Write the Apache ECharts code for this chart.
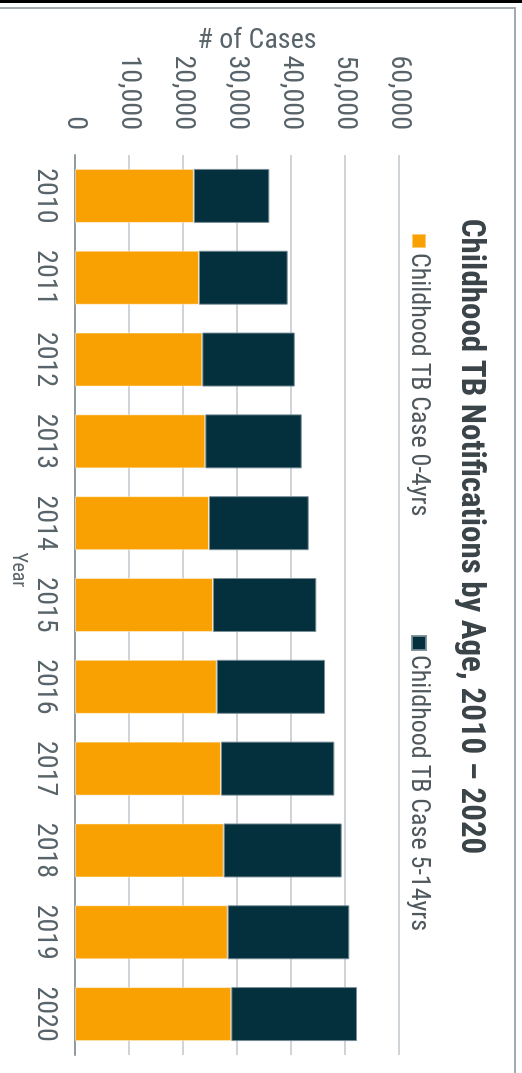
<!DOCTYPE html>
<html>
<head>
<meta charset="utf-8">
<script src="https://cdn.jsdelivr.net/npm/echarts@6/dist/echarts.min.js"></script>
<style>
  html, body { margin: 0; padding: 0; width: 522px; height: 1073px; overflow: hidden; background: #ffffff; }
  #frame-black { position: absolute; left: 0; top: 0; width: 522px; height: 3px; background: #000; }
  #frame-top { position: absolute; left: 0; top: 7px; width: 516px; height: 2px; background: #a3abb0; }
  #frame-right { position: absolute; left: 514px; top: 7px; width: 2px; height: 1066px; background: #a3abb0; }
  #chart { position: absolute; left: 0; top: 0; width: 1073px; height: 522px;
           transform-origin: 0 0; transform: translateX(522px) rotate(90deg); }
</style>
</head>
<body>
<div id="chart"></div>
<div id="frame-black"></div>
<div id="frame-top"></div>
<div id="frame-right"></div>
<script>
const years = ['2010', '2011', '2012', '2013', '2014', '2015', '2016', '2017', '2018', '2019', '2020'];
const caseAge0to4 = [22000, 22950, 23580, 24140, 24820, 25560, 26240, 27040, 27530, 28270, 28950];
const caseAge5to14 = [13990, 16430, 17120, 17840, 18450, 19130, 20060, 20990, 21850, 22530, 23270];
const seriesNames = ['Childhood TB Case 0-4yrs', 'Childhood TB Case 5-14yrs'];
const titleText = 'Childhood TB Notifications by Age, 2010 \u2013 2020';
const valueAxisName = '# of Cases';
const categoryAxisName = 'Year';

const FONT = '"Liberation Sans Narrow", "Roboto Condensed", "DejaVu Sans Condensed", "Liberation Sans", sans-serif';
const TEXT = '#59646a';

const chart = echarts.init(document.getElementById('chart'), null, { renderer: 'canvas', width: 1073, height: 522 });
chart.setOption({
  animation: false,
  backgroundColor: '#ffffff',
  textStyle: { fontFamily: FONT },
  title: {
    text: titleText,
    left: 'center',
    top: 30,
    textStyle: { fontFamily: FONT, fontSize: 33, fontWeight: 'bold', color: '#3b4448' }
  },
  legend: [
    {
      data: [seriesNames[0]], left: 233, top: 90, padding: 0, itemWidth: 14, itemHeight: 14, itemGap: 0,
      icon: 'rect', textStyle: { fontFamily: FONT, fontSize: 26, color: '#4f585d' }
    },
    {
      data: [seriesNames[1]], left: 635, top: 90, padding: 0, itemWidth: 14, itemHeight: 14, itemGap: 0,
      icon: 'rect', textStyle: { fontFamily: FONT, fontSize: 26, color: '#4f585d' }
    }
  ],
  grid: { left: 155, right: 18, top: 123, bottom: 75, containLabel: false },
  xAxis: {
    type: 'category',
    data: years,
    name: categoryAxisName,
    nameLocation: 'middle',
    nameGap: 47,
    nameMoveOverlap: false,
    nameTextStyle: { fontFamily: FONT, fontSize: 20, color: TEXT, padding: [0, 70, 0, 0] },
    axisLine: { show: true, lineStyle: { color: '#929ba0', width: 2 } },
    axisTick: { show: false },
    axisLabel: { fontFamily: FONT, fontSize: 28, color: TEXT, margin: 16 }
  },
  yAxis: {
    type: 'value',
    min: 0, max: 60000, interval: 10000,
    name: valueAxisName,
    nameLocation: 'middle',
    nameGap: 100,
    nameMoveOverlap: false,
    nameTextStyle: { fontFamily: FONT, fontSize: 28, color: TEXT, padding: [0, 0, 0, 40] },
    axisLine: { show: false },
    axisTick: { show: false },
    splitLine: { show: true, lineStyle: { color: '#cfd4d8', width: 2 } },
    axisLabel: {
      fontFamily: FONT, fontSize: 28, color: TEXT, margin: 25,
      formatter: v => v.toLocaleString('en-US')
    }
  },
  series: [
    {
      name: seriesNames[0], type: 'bar', stack: 'total', data: caseAge0to4,
      barCategoryGap: '34%',
      itemStyle: { color: '#f9a102', borderColor: 'rgba(255,255,255,0.45)', borderWidth: 1 }
    },
    {
      name: seriesNames[1], type: 'bar', stack: 'total', data: caseAge5to14,
      barCategoryGap: '34%',
      itemStyle: { color: '#03303c', borderColor: 'rgba(120,140,150,0.9)', borderWidth: 1 }
    }
  ]
});
</script>
</body>
</html>
